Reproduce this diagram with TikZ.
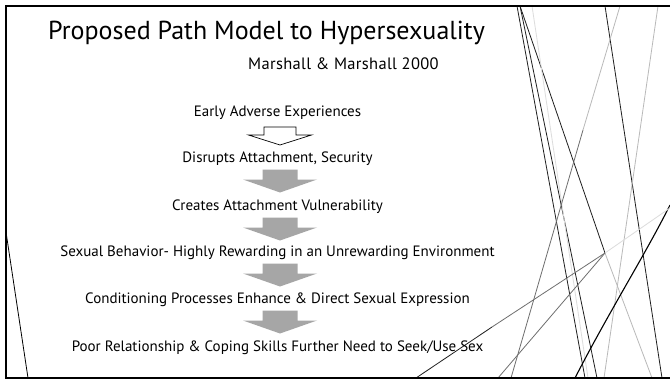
\documentclass[tikz,border=0pt]{standalone}
\usepackage{fontspec}
\setmainfont{PT Sans}
\usetikzlibrary{calc}
\definecolor{arrowgray}{RGB}{166,166,166}
\definecolor{lineA}{RGB}{30,30,30}
\definecolor{lineB}{RGB}{110,110,110}
\definecolor{lineC}{RGB}{185,185,185}
\definecolor{lineD}{RGB}{220,220,220}
\tikzset{
  steptext/.style={anchor=base, inner sep=0pt, font=\fontsize{15}{18}\selectfont, text=black},
  grayarrow/.style={fill=arrowgray, draw=none},
  openarrow/.style={draw=black, line width=0.7pt, fill=white},
  frameline/.style={draw=black, line width=2pt},
  wisp/.style={line width=0.8pt},
}
\begin{document}
\begin{tikzpicture}[x=1pt,y=-1pt]
\useasboundingbox (0,0) rectangle (670,380);
\fill[white] (0,0) rectangle (670,380);

% decorative lines (right side)
\draw[wisp, lineA] (517,6) -- (585,378);
\draw[wisp, lineA] (520,6) -- (597,378);
\draw[wisp, lineA] (520,6) -- (605,253);
\draw[wisp, lineC] (605,253) -- (652,378);
\draw[wisp, lineD] (532,6) -- (588,378);
\draw[wisp, lineA] (605,6) -- (662,378);
\draw[wisp, lineC] (620,6) -- (583,130);
\draw[wisp, lineB] (583,130) -- (511,378);
\draw[wisp, lineC] (658,6) -- (604,378);
\draw[line width=1.1pt, black] (670,205) .. controls (645,255) and (610,310) .. (575,378);
\draw[wisp, lineA] (416,378) -- (492,327);
\draw[wisp, lineB] (492,327) -- (605,253);
\draw[wisp, lineD] (605,253) -- (670,208);
\draw[wisp, lineB] (498,378) -- (605,253);

% frame
\draw[frameline] (670,6) -- (6,6) -- (6,378) -- (670,378);
\draw[line width=0.8pt] (6,232) -- (28,378);

% texts
\node[anchor=base west, inner sep=0pt, font=\fontsize{26}{30}\selectfont] (title) at (48,39) {Proposed Path Model to Hypersexuality};
\node[anchor=base west, inner sep=0pt, font=\fontsize{16.5}{19}\selectfont\addfontfeature{LetterSpace=2}] (ref) at (248,69) {Marshall \& Marshall 2000};
\node[steptext] (t1) at (277.5,116) {Early Adverse Experiences};
\node[steptext] (t2) at (277.5,162) {Disrupts Attachment, Security};
\node[steptext] (t3) at (277.5,210) {Creates Attachment Vulnerability};
\node[steptext] (t4) at (277.5,256) {Sexual Behavior- Highly Rewarding in an Unrewarding Environment};
\node[steptext] (t5) at (277.5,303) {Conditioning Processes Enhance \& Direct Sexual Expression};
\node[steptext] (t6) at (277.5,351) {Poor Relationship \& Coping Skills Further Need to Seek/Use Sex};

% arrows
\path (t1.base) ++(2.5,11) coordinate (a1);
\draw[openarrow] (a1) ++(-16,0) -- ++(32,0) -- ++(0,8) -- ++(15.5,0) -- ++(-31.5,10) -- ++(-31.5,-10) -- ++(15.5,0) -- cycle;
\foreach \n in {2,3,4,5}{
  \path (t\n.base) ++(2.5,7.5) coordinate (a\n);
  \fill[grayarrow] (a\n) ++(-17.5,0) -- ++(35,0) -- ++(0,10) -- ++(19.5,0) -- ++(-37,13) -- ++(-37,-13) -- ++(19.5,0) -- cycle;
}
\end{tikzpicture}
\end{document}
